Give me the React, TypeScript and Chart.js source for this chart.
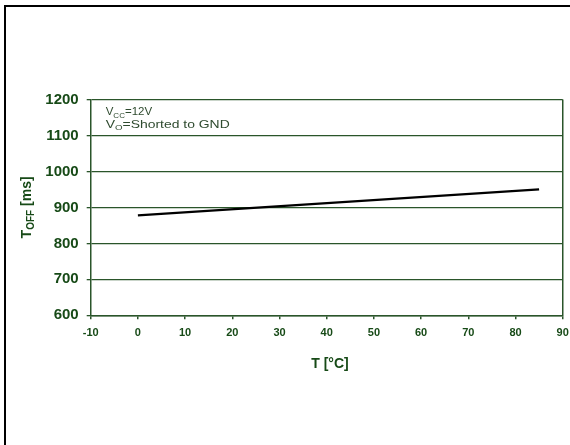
import React, { useEffect, useRef } from "react";
import { Chart, registerables } from "chart.js";

Chart.register(...registerables);

const tempC = [0, 85];
const toffMs = [878, 950];
const xTicks = [-10, 0, 10, 20, 30, 40, 50, 60, 70, 80, 90];
const yTicks = [600, 700, 800, 900, 1000, 1100, 1200];

const GREEN = "#174a17";
const LINE_GREEN = "#2a552a";
const NOTE = "#2e4a2e";
const FONT = "'Liberation Sans', Arial, Helvetica, sans-serif";

type Part = { t: string; sub?: boolean };

function measureParts(ctx: CanvasRenderingContext2D, parts: Part[], size: number, weight: string, subSize: number) {
  let w = 0;
  for (const p of parts) {
    ctx.font = `${weight} ${p.sub ? subSize : size}px ${FONT}`;
    w += ctx.measureText(p.t).width;
  }
  return w;
}

function drawSub(ctx: CanvasRenderingContext2D, parts: Part[], x: number, y: number, size: number, weight: string, subSize: number, subDrop: number, targetW?: number) {
  const natural = measureParts(ctx, parts, size, weight, subSize);
  const sx = targetW ? targetW / natural : 1;
  ctx.save();
  ctx.translate(x, y);
  ctx.scale(sx, 1);
  let cx = 0;
  for (const p of parts) {
    ctx.font = `${weight} ${p.sub ? subSize : size}px ${FONT}`;
    ctx.fillText(p.t, cx, p.sub ? subDrop : 0);
    cx += ctx.measureText(p.t).width;
  }
  ctx.restore();
}

const textPlugin = {
  id: "texts",
  afterDraw(chart: any) {
    const ctx: CanvasRenderingContext2D = chart.ctx;
    const a = chart.chartArea;
    ctx.save();
    ctx.textBaseline = "alphabetic";
    ctx.textAlign = "left";
    // annotation
    ctx.fillStyle = NOTE;
    drawSub(ctx, [{ t: "V" }, { t: "CC", sub: true }, { t: "=12V" }], a.left + 15, a.top + 15.5, 11.5, "normal", 8, 2.5);
    drawSub(ctx, [{ t: "V" }, { t: "O", sub: true }, { t: "=Shorted to GND" }], a.left + 15, a.top + 28.2, 11.5, "normal", 8, 2.5, 124);
    // x title
    ctx.fillStyle = GREEN;
    ctx.font = `bold 14px ${FONT}`;
    ctx.textAlign = "center";
    ctx.fillText("T [°C]", 330, 368);
    // y title
    ctx.textAlign = "left";
    const yParts: Part[] = [{ t: "T" }, { t: "OFF", sub: true }, { t: " [ms]" }];
    const w = measureParts(ctx, yParts, 14, "bold", 10);
    ctx.translate(31, (a.top + a.bottom) / 2);
    ctx.rotate(-Math.PI / 2);
    drawSub(ctx, yParts, -w / 2, 0, 14, "bold", 10, 3);
    ctx.restore();
  },
};

export default function App() {
  const ref = useRef<HTMLCanvasElement>(null);
  useEffect(() => {
    document.body.style.margin = "0";
    const chart = new Chart(ref.current!, {
      type: "line",
      data: {
        datasets: [
          {
            data: tempC.map((t, i) => ({ x: t, y: toffMs[i] })),
            borderColor: "#000000",
            borderWidth: 2.2,
            pointRadius: 0,
            fill: false,
            tension: 0,
          },
        ],
      },
      options: {
        animation: false,
        responsive: false,
        maintainAspectRatio: false,
        layout: { padding: { top: 99.5, right: 7.3, left: 0, bottom: 0 } },
        plugins: { legend: { display: false }, tooltip: { enabled: false } },
        scales: {
          x: {
            type: "linear",
            min: xTicks[0],
            max: xTicks[xTicks.length - 1],
            afterBuildTicks: (s: any) => {
              s.ticks = xTicks.map((v) => ({ value: v }));
            },
            afterFit: (s: any) => {
              s.height = 445 - 315.3;
              s.paddingRight = 0;
              s.paddingLeft = 0;
            },
            ticks: {
              color: GREEN,
              font: { family: FONT, size: 11, weight: "bold" },
              padding: 7,
              maxRotation: 0,
              autoSkip: false,
              callback: (v: any) => String(v),
            },
            grid: {
              color: (c: any) => (c.tick && c.tick.value === 90 ? LINE_GREEN : "rgba(0,0,0,0)"),
              tickColor: LINE_GREEN,
              tickLength: 4,
              lineWidth: 1.5,
            },
            border: { display: true, color: LINE_GREEN, width: 1.5 },
          },
          y: {
            type: "linear",
            min: yTicks[0],
            max: yTicks[yTicks.length - 1],
            afterBuildTicks: (s: any) => {
              s.ticks = yTicks.map((v) => ({ value: v }));
            },
            afterFit: (s: any) => {
              s.width = 90.7;
              s.paddingTop = 0;
              s.paddingBottom = 0;
            },
            ticks: {
              color: GREEN,
              font: { family: FONT, size: 15, weight: "bold" },
              padding: 8,
              autoSkip: false,
              callback: (v: any) => String(v),
            },
            grid: {
              color: LINE_GREEN,
              tickColor: LINE_GREEN,
              tickLength: 4,
              lineWidth: 1.3,
            },
            border: { display: true, color: LINE_GREEN, width: 1.5 },
          },
        },
      },
      plugins: [textPlugin],
    } as any);
    return () => chart.destroy();
  }, []);
  return (
    <div style={{ position: "fixed", left: 0, top: 0, width: 570, height: 445, background: "#fff" }}>
      <div
        style={{
          position: "absolute",
          left: 4,
          top: 5,
          width: 566,
          height: 440,
          borderLeft: "2.5px solid #000",
          borderTop: "2px solid #000",
          boxSizing: "border-box",
        }}
      />
      <canvas ref={ref} width={570} height={445} style={{ position: "absolute", left: 0, top: 0 }} />
    </div>
  );
}
